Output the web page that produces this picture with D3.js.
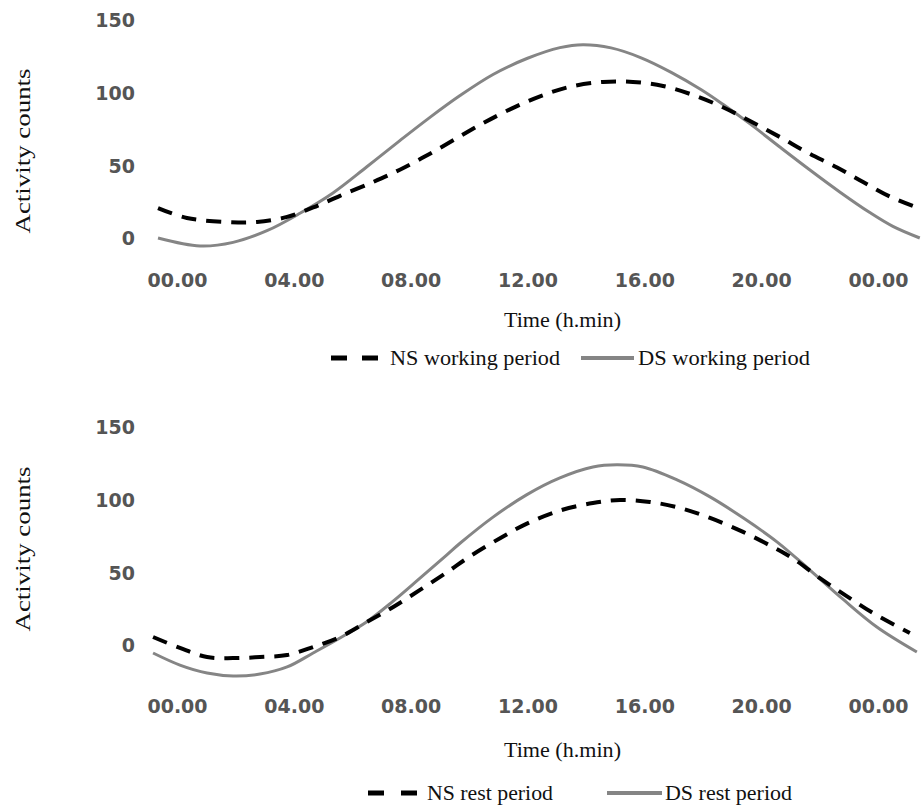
<!DOCTYPE html>
<html>
<head>
<meta charset="utf-8">
<script src="https://cdn.jsdelivr.net/npm/d3@7"></script>
<style>
  body { margin: 0; background: #fff; }
  .tick text { font-family: "DejaVu Sans", sans-serif; font-weight: bold; font-size: 19px; fill: #555; }
  .serif { font-family: "Liberation Serif", "Times New Roman", serif; fill: #111; }
</style>
</head>
<body>
<svg id="chart" width="921" height="805"></svg>
<script>
// x axis ticks (hours of the day)
const xTickHours = [0, 4, 8, 12, 16, 20, 24];
const xTickLabels = ["00.00", "04.00", "08.00", "12.00", "16.00", "20.00", "00.00"];
const yTicks = [0, 50, 100, 150];

// Working period
const nsWorkHours  = [-0.65, 0.34, 1.71, 2.74, 3.77, 4.66, 5.58, 6.71, 7.63, 8.66, 9.69, 10.48, 11.4, 12.43, 13.45, 14.58, 15.61, 16.64, 17.67, 18.69, 19.62, 20.64, 21.57, 22.6, 23.49, 24.41, 25.33];
const nsWorkCounts = [20.6, 13.8, 11, 11, 14.5, 21, 29, 38.5, 47, 58, 70, 79, 88.5, 97.5, 104, 107.4, 107.4, 104.6, 98.4, 90, 80.5, 69.5, 59, 48.5, 38.5, 28.5, 21];
const dsWorkHours  = [-0.65, 0.79, 1.92, 3.08, 4.21, 5.34, 6.5, 7.63, 8.66, 9.69, 10.82, 11.98, 13.11, 13.9, 14.86, 15.89, 16.92, 17.95, 18.69, 19.62, 20.64, 21.67, 22.69, 23.72, 24.51, 25.43];
const dsWorkCounts = [0, -5.5, -3, 5, 17, 31, 49, 67, 83, 98, 112.5, 123.5, 131, 133, 130.8, 124, 114, 102, 92, 78.5, 62.6, 46.8, 31.7, 17.5, 8, 0];

// Rest period
const nsRestHours  = [-0.82, 0.1, 1.03, 1.92, 2.84, 3.77, 4.66, 5.58, 6.5, 7.39, 8.32, 9.24, 10.03, 11.06, 11.98, 13.11, 14.24, 15.17, 16.19, 17.22, 18.25, 19.38, 20.4, 21.09, 22.01, 22.94, 23.83, 25.09];
const nsRestCounts = [5.5, -2, -8.3, -9, -8.3, -6.9, -1.4, 5.5, 15.8, 26, 37.9, 50, 61, 73.5, 83.5, 92.5, 97.7, 99.8, 98.4, 94.3, 87.4, 77.8, 67.4, 59.5, 46, 33.5, 22, 8.3];
const dsRestHours  = [-0.82, 0.1, 1.03, 1.92, 2.84, 3.77, 4.66, 5.58, 6.5, 7.39, 8.32, 9.24, 9.69, 10.82, 11.98, 13.11, 14.24, 15.06, 15.95, 17.12, 18.25, 19.38, 20.54, 21.67, 22.8, 23.96, 25.33];
const dsRestCounts = [-5.5, -13.8, -19.3, -21.3, -20, -15.1, -5.5, 4.8, 16, 30, 46, 62, 70, 88, 103.5, 115, 122.5, 124, 122.5, 113.6, 101.9, 87.5, 71, 51.6, 31.5, 12.4, -4.8];

const svg = d3.select("#chart");

// Shared x scale: 00.00 -> 24.00
const x = d3.scaleLinear().domain([0, 24]).range([177, 878]);

const dashStyle = { stroke: "#000", width: 4, dash: "15,10" };
const solidStyle = { stroke: "#858585", width: 3, dash: null };

const line = d3.line()
    .x(d => x(d[0]))
    .curve(d3.curveCatmullRom.alpha(0.5));

function drawPanel(p) {
    const y = d3.scaleLinear().domain([0, 150]).range([p.yZero, p.yZero - 218]);
    line.y(d => y(d[1]));

    // Y axis (labels only)
    const yAxis = svg.append("g")
        .attr("transform", "translate(140,0)")
        .call(d3.axisLeft(y).tickValues(yTicks).tickSize(0).tickPadding(5));
    yAxis.select(".domain").remove();
    yAxis.selectAll("text").attr("dy", "0.36em");

    // X axis (labels only)
    const xAxis = svg.append("g")
        .attr("transform", "translate(0," + p.xLabelY + ")")
        .call(d3.axisBottom(x).tickValues(xTickHours).tickSize(0).tickPadding(0)
            .tickFormat((d, i) => xTickLabels[i]));
    xAxis.select(".domain").remove();
    xAxis.selectAll("text").attr("dy", "0");

    // Lines: solid (DS) then dashed (NS)
    [[p.ds, solidStyle], [p.ns, dashStyle]].forEach(([pts, st]) => {
        svg.append("path")
            .datum(pts)
            .attr("d", line)
            .attr("fill", "none")
            .attr("stroke", st.stroke)
            .attr("stroke-width", st.width)
            .attr("stroke-dasharray", st.dash);
    });

    // Axis titles
    svg.append("text")
        .attr("class", "serif")
        .attr("transform", "translate(30," + p.titleY + ") rotate(-90)")
        .attr("text-anchor", "middle")
        .style("font-size", "21px")
        .attr("textLength", 165)
        .attr("lengthAdjust", "spacingAndGlyphs")
        .text("Activity counts");

    svg.append("text")
        .attr("class", "serif")
        .attr("x", 504)
        .attr("y", p.timeY)
        .style("font-size", "21px")
        .attr("textLength", 117)
        .attr("lengthAdjust", "spacingAndGlyphs")
        .text("Time (h.min)");

    // Legend
    const lg = p.legend;
    svg.append("line")
        .attr("x1", lg.dash[0]).attr("x2", lg.dash[1])
        .attr("y1", lg.y).attr("y2", lg.y)
        .attr("stroke", "#000").attr("stroke-width", 5)
        .attr("stroke-dasharray", lg.dashArray);
    svg.append("text")
        .attr("class", "serif")
        .attr("x", lg.nsText[0]).attr("y", lg.y + 7)
        .style("font-size", "21px")
        .attr("textLength", lg.nsText[1] - lg.nsText[0])
        .attr("lengthAdjust", "spacingAndGlyphs")
        .text(p.nsName);
    svg.append("line")
        .attr("x1", lg.solid[0]).attr("x2", lg.solid[1])
        .attr("y1", lg.y).attr("y2", lg.y)
        .attr("stroke", "#858585").attr("stroke-width", 4);
    svg.append("text")
        .attr("class", "serif")
        .attr("x", lg.dsText[0]).attr("y", lg.y + 7)
        .style("font-size", "21px")
        .attr("textLength", lg.dsText[1] - lg.dsText[0])
        .attr("lengthAdjust", "spacingAndGlyphs")
        .text(p.dsName);
}

drawPanel({
    yZero: 238,
    xLabelY: 287,
    titleY: 151,
    timeY: 327,
    ns: d3.zip(nsWorkHours, nsWorkCounts),
    ds: d3.zip(dsWorkHours, dsWorkCounts),
    nsName: "NS working period",
    dsName: "DS working period",
    legend: { y: 358, dash: [331, 378], dashArray: "16,15", nsText: [390, 560], solid: [581, 634], dsText: [638, 810] }
});

drawPanel({
    yZero: 645,
    xLabelY: 713,
    titleY: 549,
    timeY: 757,
    ns: d3.zip(nsRestHours, nsRestCounts),
    ds: d3.zip(dsRestHours, dsRestCounts),
    nsName: "NS rest period",
    dsName: "DS rest period",
    legend: { y: 793, dash: [368, 417], dashArray: "16,17", nsText: [427, 553], solid: [607, 662], dsText: [665, 792] }
});
</script>
</body>
</html>
